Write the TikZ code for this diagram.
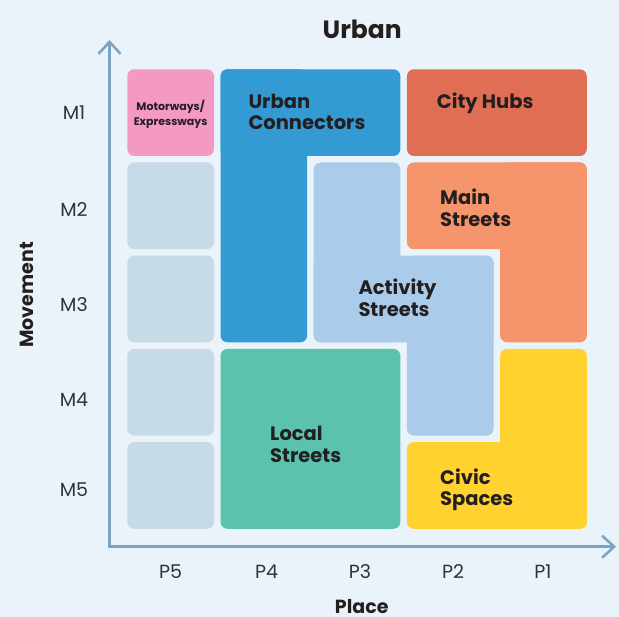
\documentclass[tikz,border=0pt]{standalone}
\usepackage{fontspec}
\setmainfont{Poppins}
\usetikzlibrary{arrows.meta}
\definecolor{bgc}{HTML}{EAF2FA}
\definecolor{pinkc}{HTML}{F49AC2}
\definecolor{bluec}{HTML}{339AD4}
\definecolor{redc}{HTML}{E06E54}
\definecolor{orangec}{HTML}{F6946B}
\definecolor{actc}{HTML}{ABCBEA}
\definecolor{grayc}{HTML}{C7DAE7}
\definecolor{greenc}{HTML}{5BC2AE}
\definecolor{yellowc}{HTML}{FFD230}
\definecolor{axisc}{HTML}{7BA4C3}
\definecolor{textc}{HTML}{231F20}
\definecolor{tickc}{HTML}{333333}
\tikzset{
  cell/.style={rounded corners=7pt},
  lbl/.style={inner sep=0pt, anchor=base west, align=left, text=textc,
    font=\bfseries\fontsize{19.5}{21.7}\selectfont},
  tick/.style={inner sep=0pt, anchor=center, text=tickc,
    font=\fontsize{19}{22}\selectfont},
  axtitle/.style={inner sep=0pt, anchor=base, text=textc,
    font=\bfseries\fontsize{19}{22}\selectfont},
  axisline/.style={draw=axisc, line width=2.5pt,
    {Straight Barb[length=12pt,width=22pt]}-{Straight Barb[length=12pt,width=22pt]}}
}
\begin{document}
\begin{tikzpicture}[x=1pt,y=-1pt]
\fill[bgc] (0,0) rectangle (619,617);
\useasboundingbox (0,0) rectangle (619,617);

% axes
\coordinate (ytip) at (109.5,40);
\coordinate (orig) at (109.5,546.7);
\coordinate (xtip) at (616,546.7);
\draw[axisline] (ytip) -- (orig) -- (xtip);

% P5 column: motorways + empty cells
\fill[pinkc, cell] (127.3,69.3) rectangle (214,156);
\fill[grayc, cell] (127.3,162.5) rectangle (214,249.2);
\fill[grayc, cell] (127.3,255.7) rectangle (214,342.4);
\fill[grayc, cell] (127.3,348.9) rectangle (214,435.6);
\fill[grayc, cell] (127.3,442.1) rectangle (214,528.8);

% Urban connectors
\fill[bluec, cell] (220.5,69.3) rectangle (400.4,156);
\fill[bluec, cell] (220.5,69.3) rectangle (307.2,342.4);

% City hubs
\fill[redc, cell] (406.9,69.3) rectangle (586.8,156);

% Main streets
\fill[orangec, cell] (406.9,162.5) rectangle (586.8,249.2);
\fill[orangec, cell] (500.1,162.5) rectangle (586.8,342.4);

% Activity streets
\fill[actc, cell] (313.7,162.5) rectangle (400.4,342.4);
\fill[actc, cell] (313.7,255.7) rectangle (493.6,342.4);
\fill[actc, cell] (406.9,255.7) rectangle (493.6,435.6);

% Local streets
\fill[greenc, cell] (220.5,348.9) rectangle (400.4,528.8);

% Civic spaces
\fill[yellowc, cell] (500.1,348.9) rectangle (586.8,528.8);
\fill[yellowc, cell] (406.9,442.1) rectangle (586.8,528.8);

% labels (base anchor = baseline of last line)
\node[inner sep=0pt, anchor=base, text=textc, font=\bfseries\fontsize{25}{30}\selectfont] (title) at (362.2,38.3) {Urban};
\node[inner sep=0pt, anchor=base, align=center, text=textc, font=\bfseries\fontsize{11}{14.7}\selectfont] (moto) at (170.65,125.7) {Motorways/\\Expressways};
\node[lbl] (urbancon) at (248.3,130) {Urban\\Connectors};
\node[lbl] (cityhubs) at (436.7,108.3) {City Hubs};
\node[lbl] (mainst) at (440,226.7) {Main\\Streets};
\node[lbl] (actst) at (358.3,316.7) {Activity\\Streets};
\node[lbl] (localst) at (270,462.7) {Local\\Streets};
\node[lbl] (civic) at (440,506) {Civic\\Spaces};

% ticks
\node[tick] (m1) at (74,112.3) {M1};
\node[tick] (m2) at (74,210) {M2};
\node[tick] (m3) at (74,305) {M3};
\node[tick] (m4) at (74,400) {M4};
\node[tick] (m5) at (74,490) {M5};
\node[tick] (p5) at (170.7,571.7) {P5};
\node[tick] (p4) at (266.7,571.7) {P4};
\node[tick] (p3) at (360,571.7) {P3};
\node[tick] (p2) at (453,571.7) {P2};
\node[tick] (p1) at (543,571.7) {P1};

\node[axtitle] (place) at (361.7,613) {Place};
\node[axtitle, rotate=90] (movement) at (33.3,295) {Movement};
\end{tikzpicture}
\end{document}
